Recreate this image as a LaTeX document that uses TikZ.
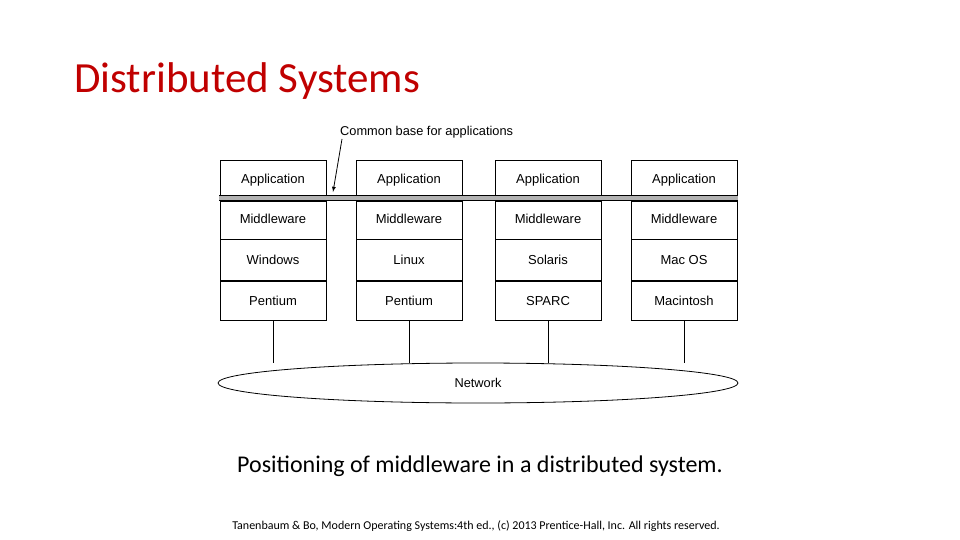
\documentclass[tikz,border=0pt]{standalone}
\usepackage{fontspec}
\setmainfont{Carlito}
\newfontfamily\boxfont{Liberation Sans}
\usetikzlibrary{positioning,shapes.geometric}
\definecolor{titlered}{RGB}{192,0,0}
\tikzset{
  layer/.style = {draw, thick, minimum width=106pt, font=\boxfont\fontsize{13}{15}\selectfont},
  lbl/.style = {font=\boxfont\fontsize{12.8}{15}\selectfont}
}
\begin{document}
\begin{tikzpicture}[x=1pt, y=-1pt]
  \useasboundingbox (0,0) rectangle (960,540);

  \node[anchor=base west, text=titlered, font=\fontsize{43}{50}\selectfont, inner sep=0] (title) at (74,93) {Distributed Systems};

  \foreach \x/\os/\hw/\n in {273/Windows/Pentium/a, 409/Linux/Pentium/b, 548/Solaris/SPARC/c, 684/Mac OS/Macintosh/d} {
    \node[layer, minimum height=41pt] (app\n) at (\x,180.5) {Application};
    \node[layer, minimum height=40pt] (mid\n) at (\x,219) {Middleware};
    \node[layer, minimum height=41pt, below=0pt of mid\n] (os\n) {\os};
    \node[layer, minimum height=39pt, below=0pt of os\n] (hw\n) {\hw};
  }

  % common base band
  \fill[gray!60] (219,195) rectangle (738,200);
  \draw[thick] (219,195) -- (738,195) (219,200) -- (738,200);

  \node[ellipse, draw, thick, minimum width=520pt, minimum height=40pt, lbl] (net) at (478,383) {Network};
  \foreach \n in {a,b,c,d}
    \draw[thick] (hw\n.south) -- (hw\n.south |- net.north);

  \node[lbl, anchor=south west, inner sep=1pt] (base) at (339,139) {Common base for applications};
  \draw[thick, -latex] (base.south west) ++(3,0) -- (333,192);

  \node[font=\fontsize{24}{28}\selectfont] (caption) at (480,466) {Positioning of middleware in a distributed system.};
  \node[font=\fontsize{12}{14}\selectfont] (credit) at (476,526) {Tanenbaum \& Bo, Modern Operating Systems:4th ed., (c) 2013 Prentice-Hall, Inc. All rights reserved.};
\end{tikzpicture}
\end{document}
